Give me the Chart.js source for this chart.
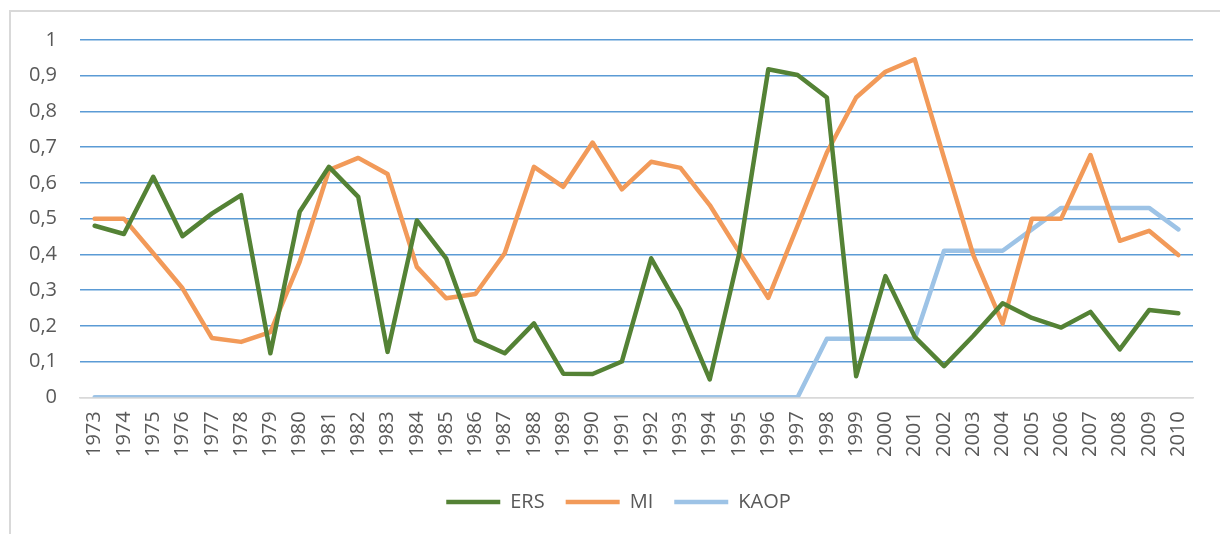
<!DOCTYPE html>
<html>
<head>
<meta charset="utf-8">
<script src="https://cdn.jsdelivr.net/npm/chart.js@4.4.1/dist/chart.umd.min.js"></script>
<style>
    html, body { margin: 0; padding: 0; background: #fff; }
    #wrap { position: relative; width: 1220px; height: 534px; overflow: hidden; }
    #frame { position: absolute; left: 9px; top: 10px; width: 1300px; height: 600px;
             border-top: 2px solid #d9d9d9; border-left: 2px solid #d9d9d9; }
    #chart { position: absolute; left: 0; top: 0; }
</style>
</head>
<body>
<div id="wrap">
    <div id="frame"></div>
    <canvas id="chart" width="1220" height="534"></canvas>
</div>
<script>
const years = ['1973', '1974', '1975', '1976', '1977', '1978', '1979', '1980', '1981', '1982',
    '1983', '1984', '1985', '1986', '1987', '1988', '1989', '1990', '1991', '1992',
    '1993', '1994', '1995', '1996', '1997', '1998', '1999', '2000', '2001', '2002',
    '2003', '2004', '2005', '2006', '2007', '2008', '2009', '2010'];

const ers = [0.48, 0.457, 0.617, 0.451, 0.514, 0.566, 0.123, 0.519, 0.645, 0.561,
    0.127, 0.495, 0.389, 0.16, 0.123, 0.207, 0.066, 0.065, 0.1, 0.389,
    0.244, 0.05, 0.4, 0.918, 0.902, 0.839, 0.059, 0.339, 0.169, 0.087,
    0.172, 0.263, 0.222, 0.195, 0.239, 0.134, 0.244, 0.235];

const mi = [0.5, 0.5, 0.403, 0.305, 0.166, 0.155, 0.182, 0.379, 0.636, 0.67,
    0.625, 0.365, 0.277, 0.289, 0.403, 0.645, 0.589, 0.713, 0.582, 0.659,
    0.642, 0.538, 0.407, 0.278, 0.48, 0.685, 0.839, 0.911, 0.946, 0.67,
    0.398, 0.206, 0.5, 0.5, 0.678, 0.438, 0.466, 0.398];

const kaop = [0, 0, 0, 0, 0, 0, 0, 0, 0, 0,
    0, 0, 0, 0, 0, 0, 0, 0, 0, 0,
    0, 0, 0, 0, 0, 0.164, 0.164, 0.164, 0.164, 0.41,
    0.41, 0.41, 0.47, 0.53, 0.53, 0.53, 0.53, 0.47];

const yTicks = [0, 0.1, 0.2, 0.3, 0.4, 0.5, 0.6, 0.7, 0.8, 0.9, 1];

const FONT = { family: "'Open Sans', sans-serif", size: 20 };

function line(label, data, color) {
    return {
        label: label,
        data: data,
        borderColor: color,
        backgroundColor: color,
        borderWidth: 4.5,
        pointRadius: 0,
        tension: 0,
        borderJoinStyle: 'round',
        borderCapStyle: 'round'
    };
}

// nudge the legend a bit to the right, like the original
const legendShift = {
    id: 'legendShift',
    afterLayout(chart) {
        chart.legend.left += 17;
        chart.legend.right += 17;
    }
};

new Chart(document.getElementById('chart'), {
    type: 'line',
    data: {
        labels: years,
        datasets: [
            line('ERS', ers, '#548235'),
            line('MI', mi, '#f29a59'),
            line('KAOP', kaop, '#9dc3e6')
        ]
    },
    plugins: [legendShift],
    options: {
        responsive: false,
        animation: false,
        layout: { padding: { left: 10, right: 27, top: 40, bottom: 12 } },
        plugins: {
            legend: {
                position: 'bottom',
                labels: {
                    font: FONT,
                    color: '#595959',
                    usePointStyle: true,
                    pointStyle: 'line',
                    pointStyleWidth: 54,
                    boxWidth: 54,
                    boxHeight: 20,
                    padding: 21
                }
            },
            tooltip: { enabled: false }
        },
        scales: {
            x: {
                offset: true,
                grid: { display: false, drawTicks: false },
                border: { color: '#d9d9d9', width: 1.5 },
                ticks: {
                    font: FONT,
                    color: '#595959',
                    minRotation: 90,
                    maxRotation: 90,
                    autoSkip: false,
                    padding: 14
                }
            },
            y: {
                min: 0,
                max: 1,
                afterFit(scale) { scale.width = 70; },
                afterBuildTicks(scale) {
                    scale.ticks = yTicks.map(v => ({ value: v }));
                },
                border: { display: false },
                grid: {
                    drawTicks: false,
                    lineWidth: 1.5,
                    color: ctx => ctx.tick && ctx.tick.value === 0 ? '#d9d9d9' : '#5b9bd5'
                },
                ticks: {
                    font: FONT,
                    color: '#595959',
                    padding: 23,
                    callback: v => String(v).replace('.', ',')
                }
            }
        }
    }
});
</script>
</body>
</html>
